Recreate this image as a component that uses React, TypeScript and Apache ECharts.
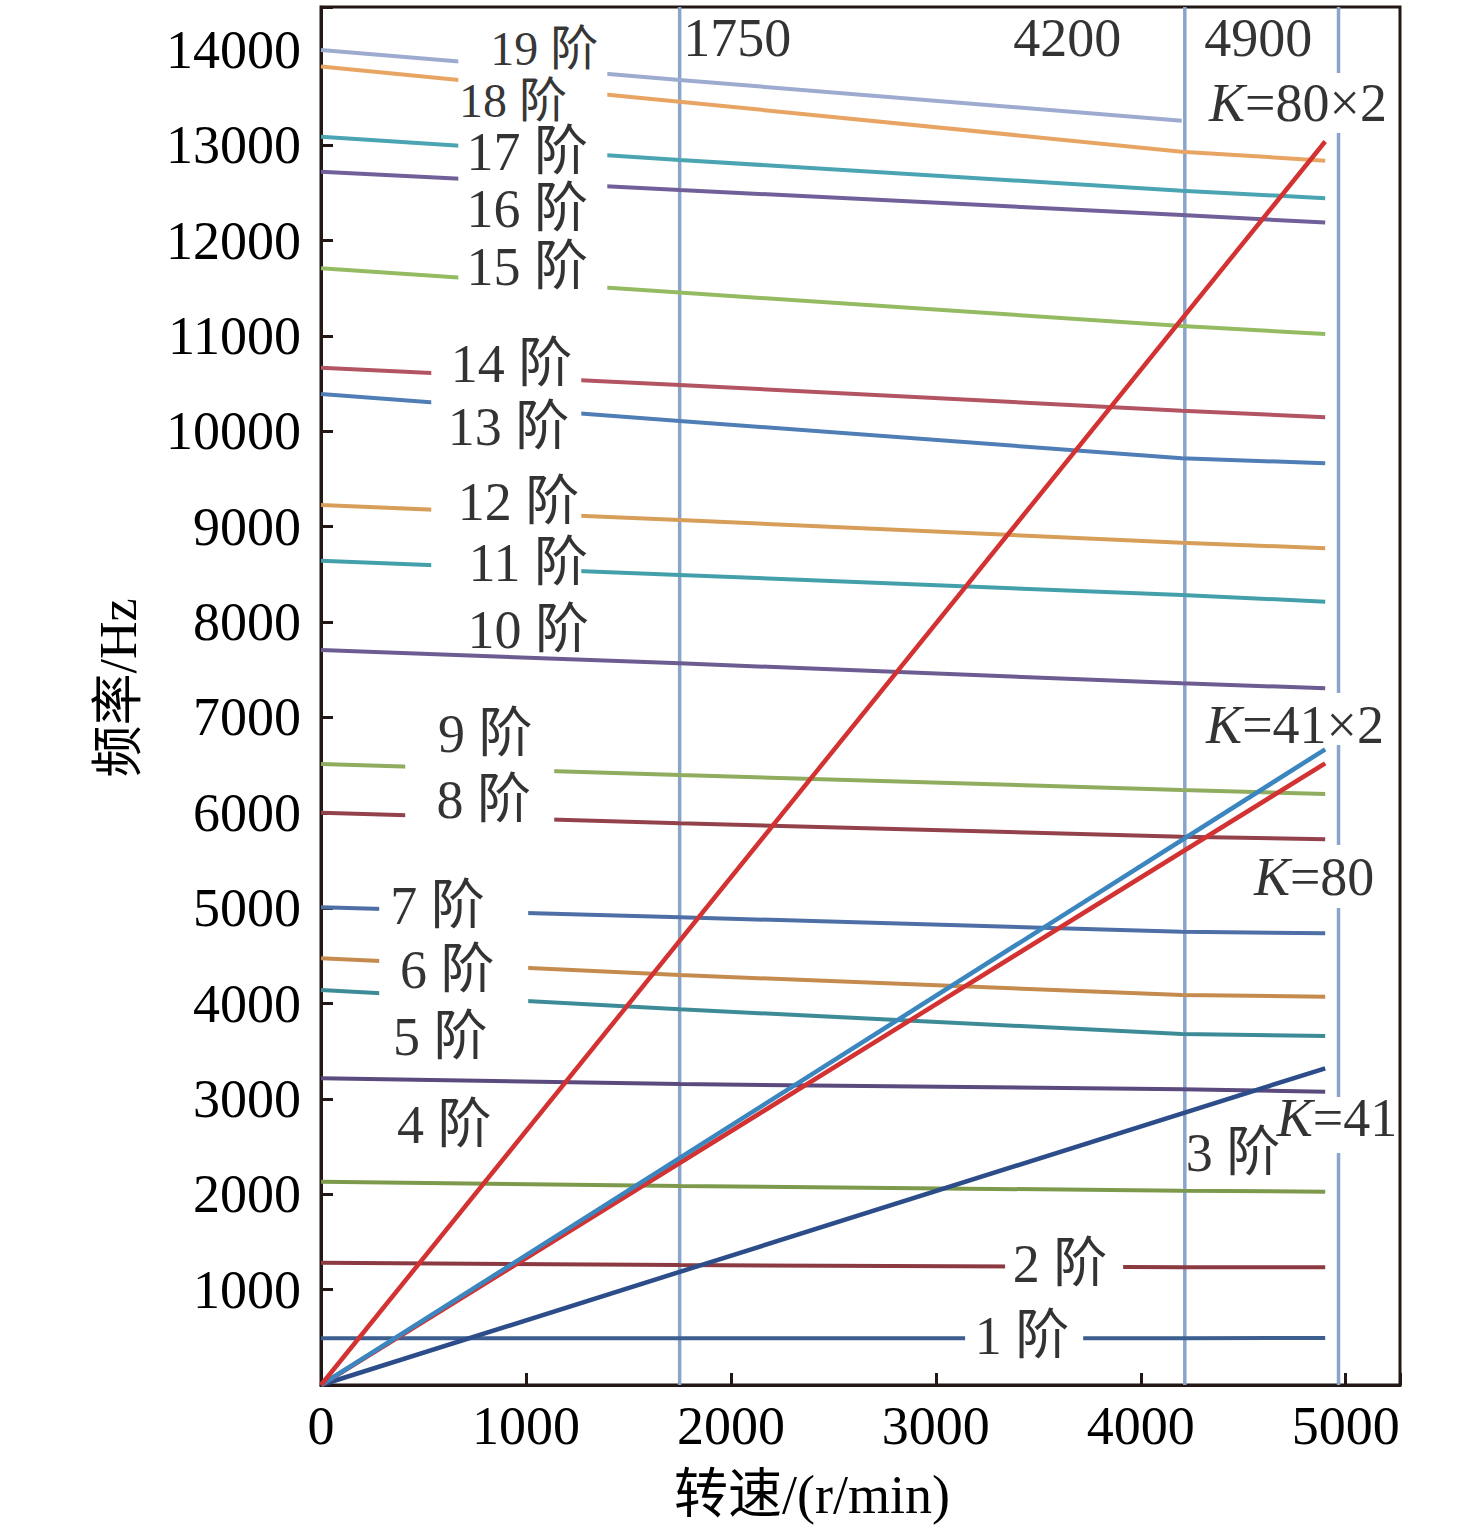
import React, { useEffect, useRef } from "react";
import * as echarts from "echarts";

// ---------------- data ----------------
const SPEED_POINTS = [0, 1750, 4200, 4900];

const ORDER_NAMES = [
  "1 阶", "2 阶", "3 阶", "4 阶", "5 阶", "6 阶", "7 阶", "8 阶", "9 阶", "10 阶",
  "11 阶", "12 阶", "13 阶", "14 阶", "15 阶", "16 阶", "17 阶", "18 阶", "19 阶",
];

const ORDER_FREQS: (number | null)[][] = [
  [490, 490, 490, 493],
  [1283, 1258, 1234, 1234],
  [2132, 2087, 2038, 2027],
  [3216, 3156, 3101, 3076],
  [4142, 3940, 3681, 3660],
  [4475, 4299, 4090, 4072],
  [5009, 4905, 4754, 4737],
  [6002, 5890, 5750, 5722],
  [6512, 6397, 6240, 6198],
  [7708, 7568, 7358, 7306],
  [8644, 8494, 8284, 8214],
  [9228, 9071, 8833, 8774],
  [10392, 10109, 9718, 9665],
  [10668, 10487, 10217, 10148],
  [11710, 11455, 11105, 11021],
  [12723, 12531, 12269, 12189],
  [13090, 12846, 12524, 12444],
  [13825, 13457, 12933, 12839],
  [14000, 13685, 13258, null],
];

const ORDER_COLORS = [
  "#3d5f8f", "#8b3a42", "#7d9a4c", "#5b4a7e", "#3e8b98", "#c58a4e", "#4d6fa6",
  "#93424c", "#8fac5f", "#6d5c91", "#43a0ab", "#d79e5a", "#4f7db5", "#b25461",
  "#94bb62", "#715f99", "#4aa4b1", "#e8a463", "#9dabd0",
];

// label anchors (data coordinates: speed, frequency)
const ORDER_LABEL_POS = [
  [3421, 514], [3606, 1269], [4450, 2433], [602, 2726], [582, 3649], [616, 4352],
  [569, 5023], [794, 6135], [801, 6827], [1011, 7917], [1011, 8620], [964, 9260],
  [915, 10046], [929, 10707], [1007, 11724], [1007, 12330], [1007, 12925],
  [937, 13470], [1089, 14010],
];
// stacked labels near the top are set a little smaller
const ORDER_LABEL_SIZE = [54, 54, 54, 54, 54, 54, 54, 54, 54, 54, 54, 54, 54, 54, 54, 54, 54, 48, 48];

const K_NAMES = ["41", "80", "41\u00d72", "80\u00d72"];
const K_END_SPEED = 4900;
const K_END_FREQ = [3321, 6519, 6666, 13040];
const K_COLORS = ["#2c4d8a", "#d23232", "#3b86bf", "#d23232"];
const K_LABEL_POS = [[4958, 2800], [4846, 5327], [4753, 6921], [4767, 13443]];

const MARK_SPEEDS = [1750, 4215, 4965];
const MARK_LABELS = ["1750", "4200", "4900"];
const MARK_LABEL_POS = [[2031, 14125], [3641, 14125], [4573, 14125]];

// white label boxes (data coords: x0, y0, x1, y1)
const MASKS = [
  [670, 11378, 1397, 14262],
  [538, 8337, 1270, 10958],
  [411, 5820, 1138, 7131],
  [284, 3990, 1011, 5296],
  [3338, 1100, 3914, 1416],
  [3143, 346, 3719, 629],
  [4289, 13129, 5240, 13758],
  [4289, 6711, 5226, 7257],
  [4509, 5002, 5192, 5663],
  [4655, 2433, 5250, 3020],
];

const X_MAX = 5265;
const Y_MAX = 14450;

const FONT = "'Liberation Serif', 'Noto Sans CJK SC', serif";
const AXIS_COLOR = "#231815";
const TEXT_COLOR = "#000";

export default function App() {
  const ref = useRef<HTMLDivElement>(null);

  useEffect(() => {
    if (!ref.current) return;
    const chart = echarts.init(ref.current, undefined, { renderer: "svg" });

    const series: any[] = [];

    MARK_SPEEDS.forEach((s, i) => {
      series.push({
        type: "line",
        name: "mark" + i,
        data: [[s, 0], [s, Y_MAX]],
        showSymbol: false,
        symbol: "none",
        lineStyle: { color: "#8aa5c9", width: 3.5 },
        z: 1,
        silent: true,
      });
    });

    ORDER_FREQS.forEach((freqs, i) => {
      const data = SPEED_POINTS.map((s, j) => [s, freqs[j]]).filter((d) => d[1] !== null);
      series.push({
        type: "line",
        name: ORDER_NAMES[i],
        data,
        showSymbol: false,
        symbol: "none",
        lineStyle: { color: ORDER_COLORS[i], width: 4 },
        z: 2,
        silent: true,
      });
    });

    K_END_FREQ.forEach((f, i) => {
      series.push({
        type: "line",
        name: "K" + i,
        data: [[0, 0], [K_END_SPEED, f]],
        showSymbol: false,
        symbol: "none",
        lineStyle: { color: K_COLORS[i], width: 4.5 },
        z: 3,
        silent: true,
      });
    });

    series.push({
      type: "custom",
      name: "masks",
      data: MASKS,
      encode: { x: [0, 2], y: [1, 3] },
      z: 5,
      silent: true,
      clip: true,
      renderItem: (params: any, api: any) => {
        const p0 = api.coord([api.value(0), api.value(3)]);
        const p1 = api.coord([api.value(2), api.value(1)]);
        return {
          type: "rect",
          shape: { x: p0[0], y: p0[1], width: p1[0] - p0[0], height: p1[1] - p0[1] },
          style: { fill: "#ffffff" },
        };
      },
    });

    const labelData: any[] = [];
    ORDER_NAMES.forEach((n, i) => {
      labelData.push({
        value: ORDER_LABEL_POS[i],
        label: { formatter: n, fontSize: ORDER_LABEL_SIZE[i], lineHeight: ORDER_LABEL_SIZE[i] - 8 },
      });
    });
    K_NAMES.forEach((n, i) => {
      labelData.push({ value: K_LABEL_POS[i], label: { formatter: "{k|K}=" + n } });
    });
    MARK_LABELS.forEach((n, i) => {
      labelData.push({ value: MARK_LABEL_POS[i], label: { formatter: n } });
    });

    series.push({
      type: "scatter",
      name: "labels",
      data: labelData,
      symbolSize: 0,
      z: 6,
      silent: true,
      label: {
        show: true,
        position: "inside",
        color: TEXT_COLOR,
        fontSize: 54,
        lineHeight: 46,
        fontFamily: FONT,
        align: "center",
        verticalAlign: "middle",
        rich: {
          k: { fontStyle: "italic", fontSize: 54, lineHeight: 46, fontFamily: FONT, color: TEXT_COLOR },
        },
      },
    });

    chart.setOption({
      animation: false,
      backgroundColor: "#ffffff",
      grid: {
        left: 321,
        right: 76,
        top: 7,
        bottom: 150,
        show: true,
        borderColor: AXIS_COLOR,
        borderWidth: 3,
        backgroundColor: "transparent",
      },
      xAxis: {
        type: "value",
        min: 0,
        max: X_MAX,
        interval: 1000,
        axisLine: { show: true, lineStyle: { color: AXIS_COLOR, width: 3 } },
        axisTick: { show: true, inside: true, length: 12, lineStyle: { color: AXIS_COLOR, width: 3 } },
        axisLabel: {
          color: TEXT_COLOR,
          fontSize: 54,
          fontFamily: FONT,
          margin: 14,
          formatter: (v: number) => (v % 1000 === 0 ? String(v) : ""),
        },
        splitLine: { show: false },
      },
      yAxis: {
        type: "value",
        min: 0,
        max: Y_MAX,
        interval: 1000,
        axisLine: { show: true, lineStyle: { color: AXIS_COLOR, width: 3 } },
        axisTick: { show: true, inside: true, length: 12, lineStyle: { color: AXIS_COLOR, width: 3 } },
        axisLabel: {
          color: TEXT_COLOR,
          fontSize: 54,
          fontFamily: FONT,
          margin: 20,
          formatter: (v: number) => (v % 1000 === 0 && v !== 0 ? String(v) : ""),
        },
        splitLine: { show: false },
      },
      graphic: [
        {
          type: "text",
          x: 118,
          y: 688,
          rotation: Math.PI / 2,
          style: {
            text: "频率/Hz",
            fontSize: 52,
            fontFamily: FONT,
            fill: TEXT_COLOR,
            textAlign: "center",
            textVerticalAlign: "middle",
          },
        },
        {
          type: "text",
          x: 812,
          y: 1495,
          style: {
            text: "转速/(r/min)",
            fontSize: 54,
            fontFamily: FONT,
            fill: TEXT_COLOR,
            textAlign: "center",
            textVerticalAlign: "middle",
          },
        },
      ],
      series,
    });

    return () => chart.dispose();
  }, []);

  return (
    <div
      ref={ref}
      style={{ position: "absolute", left: 0, top: 0, width: 1476, height: 1535, background: "#fff" }}
    />
  );
}
